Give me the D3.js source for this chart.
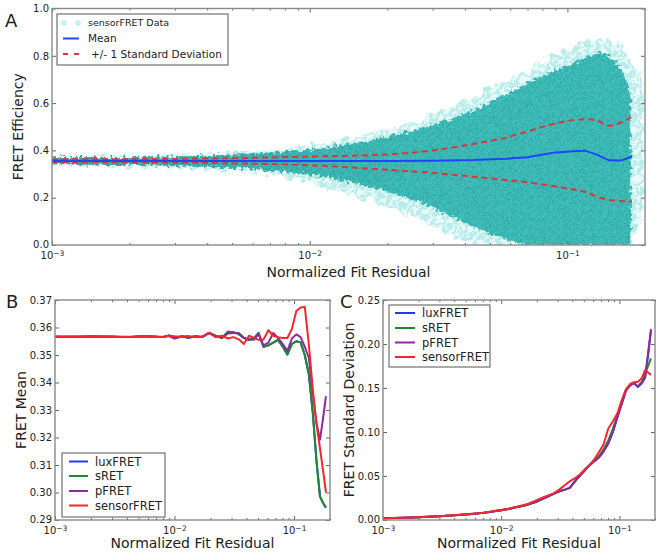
<!DOCTYPE html>
<html><head><meta charset="utf-8">
<script src="https://cdn.jsdelivr.net/npm/d3@7"></script>
<style>
body{margin:0;background:#fff}
text{font-family:"DejaVu Sans",sans-serif;fill:#222}
</style>
</head><body>
<svg id="c" width="660" height="552"></svg>
<script>
// ---------- DATA ----------
const xTickExps = [-3, -2, -1];
const yTicksA = [0.0, 0.2, 0.4, 0.6, 0.8, 1.0];
const yTicksB = [0.29, 0.30, 0.31, 0.32, 0.33, 0.34, 0.35, 0.36, 0.37];
const yTicksC = [0.00, 0.05, 0.10, 0.15, 0.20, 0.25];
const seriesNames = ["luxFRET", "sRET", "pFRET", "sensorFRET"];

// Panel A: scatter cloud envelope
const cloudX    = [0.001, 0.002, 0.003, 0.005, 0.008, 0.0115, 0.016, 0.024, 0.033, 0.043, 0.055, 0.068, 0.085, 0.105, 0.120, 0.135, 0.150, 0.162, 0.170, 0.176, 0.186, 0.197];
const coreHi    = [0.371, 0.372, 0.373, 0.380, 0.394, 0.410, 0.435, 0.476, 0.520, 0.567, 0.625, 0.680, 0.730, 0.765, 0.800, 0.820, 0.790, 0.740, 0.700, 0.620, null, null];
const coreLo    = [0.341, 0.339, 0.335, 0.326, 0.310, 0.290, 0.255, 0.203, 0.140, 0.077, 0.030, 0.0, 0.0, 0.0, 0.0, 0.0, 0.0, 0.0, 0.0, 0.0, null, null];
const haloHi    = [0.374, 0.376, 0.379, 0.388, 0.405, 0.432, 0.462, 0.515, 0.570, 0.625, 0.685, 0.730, 0.790, 0.840, 0.870, 0.885, 0.865, 0.830, 0.800, 0.780, 0.750, 0.690];
const haloLo    = [0.338, 0.335, 0.330, 0.318, 0.295, 0.250, 0.200, 0.130, 0.060, 0.0, 0.0, 0.0, 0.0, 0.0, 0.0, 0.0, 0.0, 0.0, 0.0, 0.0, 0.060, 0.170];

// Panel A: mean and +/- 1 SD
const meanX  = [0.001, 0.003, 0.010, 0.020, 0.030, 0.043, 0.058, 0.070, 0.088, 0.105, 0.117, 0.130, 0.145, 0.161, 0.170, 0.178];
const meanA  = [0.355, 0.355, 0.355, 0.355, 0.356, 0.359, 0.365, 0.371, 0.390, 0.396, 0.399, 0.382, 0.358, 0.357, 0.366, 0.375];
const upperA = [0.362, 0.364, 0.374, 0.383, 0.400, 0.427, 0.455, 0.480, 0.512, 0.528, 0.532, 0.527, 0.504, 0.518, 0.530, 0.542];
const lowerA = [0.350, 0.348, 0.337, 0.318, 0.305, 0.289, 0.275, 0.265, 0.249, 0.235, 0.225, 0.205, 0.190, 0.186, 0.184, 0.183];

// Panels B & C: binned residual
const binX = [0.0010, 0.0015, 0.0020, 0.0030, 0.0040, 0.0050, 0.0060, 0.0070, 0.0080, 0.0090, 0.0100, 0.0115, 0.0130, 0.0150, 0.0170, 0.0195, 0.0220, 0.0250, 0.0280, 0.0310, 0.0345, 0.0380, 0.0420, 0.0460, 0.0505, 0.0555, 0.0610, 0.0670, 0.0735, 0.0805, 0.0880, 0.0960, 0.1045, 0.1135, 0.1230, 0.1330, 0.1435, 0.1545, 0.1650, 0.1750, 0.1850];

const meanLux    = [0.3566, 0.3566, 0.3567, 0.3566, 0.3565, 0.3567, 0.3567, 0.3566, 0.3565, 0.3571, 0.3561, 0.3568, 0.3563, 0.3568, 0.3565, 0.3580, 0.3570, 0.3562, 0.3585, 0.3583, 0.3576, 0.3562, 0.3554, 0.3560, 0.3580, 0.3530, 0.3535, 0.3545, 0.3555, 0.3530, 0.3502, 0.3540, 0.3550, 0.3546, 0.3500, 0.3430, 0.3290, 0.3110, 0.2985, 0.2962, 0.2945];
const meanSRET   = [0.3566, 0.3566, 0.3567, 0.3566, 0.3565, 0.3567, 0.3567, 0.3566, 0.3565, 0.3571, 0.3561, 0.3568, 0.3563, 0.3568, 0.3565, 0.3580, 0.3570, 0.3562, 0.3585, 0.3583, 0.3576, 0.3562, 0.3554, 0.3560, 0.3580, 0.3530, 0.3535, 0.3545, 0.3555, 0.3530, 0.3502, 0.3540, 0.3550, 0.3546, 0.3500, 0.3430, 0.3290, 0.3110, 0.2985, 0.2962, 0.2945];
const meanPFRET  = [0.3566, 0.3566, 0.3567, 0.3566, 0.3565, 0.3567, 0.3567, 0.3566, 0.3565, 0.3569, 0.3560, 0.3567, 0.3564, 0.3567, 0.3566, 0.3580, 0.3568, 0.3565, 0.3578, 0.3580, 0.3580, 0.3562, 0.3558, 0.3555, 0.3576, 0.3535, 0.3545, 0.3580, 0.3562, 0.3540, 0.3515, 0.3560, 0.3575, 0.3565, 0.3530, 0.3490, 0.3360, 0.3250, 0.3192, 0.3270, 0.3350];
const meanSensor = [0.3566, 0.3566, 0.3566, 0.3567, 0.3566, 0.3566, 0.3569, 0.3566, 0.3566, 0.3570, 0.3568, 0.3566, 0.3569, 0.3565, 0.3567, 0.3581, 0.3565, 0.3570, 0.3560, 0.3565, 0.3557, 0.3540, 0.3570, 0.3562, 0.3555, 0.3556, 0.3590, 0.3570, 0.3565, 0.3562, 0.3562, 0.3595, 0.3660, 0.3673, 0.3675, 0.3540, 0.3375, 0.3245, 0.3160, 0.3080, 0.3000];

const sdLux    = [0.0019, 0.0026, 0.0032, 0.0043, 0.0054, 0.0063, 0.0072, 0.0081, 0.0091, 0.0102, 0.0112, 0.0126, 0.0141, 0.0160, 0.0177, 0.0205, 0.0235, 0.0270, 0.0300, 0.0325, 0.0345, 0.0365, 0.0440, 0.0500, 0.0560, 0.0620, 0.0665, 0.0710, 0.0780, 0.0870, 0.1000, 0.1165, 0.1320, 0.1470, 0.1530, 0.1555, 0.1515, 0.1555, 0.1620, 0.1880, 0.2150];
const sdSRET   = [0.0019, 0.0026, 0.0032, 0.0043, 0.0054, 0.0063, 0.0072, 0.0081, 0.0091, 0.0102, 0.0112, 0.0126, 0.0141, 0.0160, 0.0177, 0.0205, 0.0235, 0.0270, 0.0300, 0.0325, 0.0345, 0.0365, 0.0440, 0.0500, 0.0560, 0.0620, 0.0670, 0.0725, 0.0805, 0.0905, 0.1035, 0.1185, 0.1335, 0.1475, 0.1535, 0.1555, 0.1515, 0.1570, 0.1665, 0.1750, 0.1837];
const sdPFRET  = [0.0019, 0.0026, 0.0032, 0.0043, 0.0054, 0.0063, 0.0072, 0.0081, 0.0091, 0.0102, 0.0112, 0.0126, 0.0141, 0.0160, 0.0177, 0.0205, 0.0235, 0.0270, 0.0300, 0.0325, 0.0345, 0.0365, 0.0440, 0.0500, 0.0560, 0.0620, 0.0665, 0.0710, 0.0780, 0.0870, 0.1000, 0.1165, 0.1320, 0.1470, 0.1530, 0.1555, 0.1515, 0.1560, 0.1620, 0.1900, 0.2170];
const sdSensor = [0.0019, 0.0026, 0.0033, 0.0044, 0.0055, 0.0064, 0.0074, 0.0083, 0.0093, 0.0104, 0.0114, 0.0128, 0.0144, 0.0165, 0.0185, 0.0220, 0.0250, 0.0280, 0.0305, 0.0345, 0.0395, 0.0440, 0.0475, 0.0515, 0.0570, 0.0620, 0.0685, 0.0770, 0.0860, 0.1040, 0.1120, 0.1210, 0.1360, 0.1485, 0.1545, 0.1565, 0.1570, 0.1610, 0.1705, 0.1675, 0.1648];

const meanSeries = [meanLux, meanSRET, meanPFRET, meanSensor];
const sdSeries   = [sdLux, sdSRET, sdPFRET, sdSensor];
const seriesColors = ["#2438f2", "#1f8a2a", "#8c2a9e", "#f4262e"];

// ---------- DRAWING ----------
const svg = d3.select("#c");
const defs = svg.append("defs");
const TEXT = "#222", AXIS = "#8a8a8a", LEGBOX = "#555";

function makePanel(cfg) {
  const x = d3.scaleLog().domain([1e-3, 0.2]).range([cfg.l, cfg.r]);
  const y = d3.scaleLinear().domain(cfg.yDomain).range([cfg.b, cfg.t]);
  const g = svg.append("g");
  defs.append("clipPath").attr("id", cfg.id)
    .append("rect").attr("x", cfg.l).attr("y", cfg.t)
    .attr("width", cfg.r - cfg.l).attr("height", cfg.b - cfg.t);
  const plot = g.append("g").attr("clip-path", `url(#${cfg.id})`);
  return { x, y, g, plot, cfg };
}

function decorate(p, yFmt) {
  const { x, y, g, cfg } = p;
  const majors = xTickExps.map(e => Math.pow(10, e));
  const minors = [];
  xTickExps.forEach(e => { for (let m = 2; m <= 9; m++) { const v = m * Math.pow(10, e); if (v <= 0.2) minors.push(v); } });
  const axes = g.append("g");
  const add = (axis, tr) => {
    const s = axes.append("g").attr("transform", tr).call(axis);
    s.select(".domain").remove();
    s.selectAll("line").attr("stroke", "#666").attr("stroke-width", 1);
    return s;
  };
  add(d3.axisBottom(x).tickValues(minors).tickSize(-2).tickFormat(""), `translate(0,${cfg.b})`);
  add(d3.axisTop(x).tickValues(minors).tickSize(-2).tickFormat(""), `translate(0,${cfg.t})`);
  add(d3.axisTop(x).tickValues(majors).tickSize(-4).tickFormat(""), `translate(0,${cfg.t})`);
  add(d3.axisRight(y).tickValues(cfg.yTicks).tickSize(-4).tickFormat(""), `translate(${cfg.r},0)`);
  const bx = add(d3.axisBottom(x).tickValues(majors).tickSize(-4).tickPadding(7), `translate(0,${cfg.b})`);
  bx.selectAll("text").each(function (d) {
    const t = d3.select(this);
    const e = Math.round(Math.log10(d));
    t.text(null).attr("font-family", "DejaVu Sans").attr("font-size", 10).attr("fill", TEXT);
    t.append("tspan").text("10");
    t.append("tspan").attr("dy", "-0.4em").attr("font-size", 7.5).text("\u2212" + Math.abs(e));
  });
  const ly = add(d3.axisLeft(y).tickValues(cfg.yTicks).tickSize(-4).tickPadding(3).tickFormat(d3.format(yFmt)), `translate(${cfg.l},0)`);
  ly.selectAll("text").attr("font-family", "DejaVu Sans").attr("font-size", 10).attr("fill", TEXT);
  // nudge the bottom-most y label up a touch so it clears the x tick label
  ly.selectAll("text").filter(d => d === cfg.yTicks[0]).attr("dy", "0.2em");
  axes.append("rect").attr("x", cfg.l).attr("y", cfg.t)
    .attr("width", cfg.r - cfg.l).attr("height", cfg.b - cfg.t)
    .attr("fill", "none").attr("stroke", AXIS).attr("stroke-width", 1.4);
  // axis labels
  g.append("text").attr("x", (cfg.l + cfg.r) / 2).attr("y", cfg.xlabY)
    .attr("text-anchor", "middle").attr("font-size", 14).text("Normalized Fit Residual");
  g.append("text").attr("transform", `translate(${cfg.ylabX},${(cfg.t + cfg.b) / 2}) rotate(-90)`)
    .attr("text-anchor", "middle").attr("font-size", 14).text(cfg.ylab);
  g.append("text").attr("x", cfg.letterX).attr("y", cfg.letterY).attr("font-size", 18).text(cfg.letter);
}

// ---- Panel A ----
const A = makePanel({ id: "clipA", l: 52, r: 645, t: 8.5, b: 245, yDomain: [0, 1], yTicks: yTicksA,
  xlabY: 277, ylabX: 23, ylab: "FRET Efficiency", letter: "A", letterX: 5, letterY: 27 });

// texture defs for the scatter cloud
const grad = defs.append("linearGradient").attr("id", "coreGrad")
  .attr("gradientUnits", "userSpaceOnUse").attr("x1", 52).attr("x2", 420).attr("y1", 0).attr("y2", 0);
grad.append("stop").attr("offset", 0).attr("stop-color", "#3d8f8d");
grad.append("stop").attr("offset", 0.4).attr("stop-color", "#33a9a6");
grad.append("stop").attr("offset", 1).attr("stop-color", "#31b6b2");
const pat = defs.append("pattern").attr("id", "speck").attr("patternUnits", "userSpaceOnUse")
  .attr("width", 9).attr("height", 8);
[[1.5, 1.5], [6, 3], [3.5, 6], [8, 7]].forEach(c => {
  pat.append("circle").attr("cx", c[0]).attr("cy", c[1]).attr("r", 2.4)
    .attr("fill", "#74dfdb").attr("fill-opacity", 0.2)
    .attr("stroke", "#0b5f5c").attr("stroke-opacity", 0.22).attr("stroke-width", 0.6);
});
const hpat = defs.append("pattern").attr("id", "haloDots").attr("patternUnits", "userSpaceOnUse")
  .attr("width", 11).attr("height", 10);
[[2.5, 2.5], [8, 5], [4, 8.5]].forEach(c => {
  hpat.append("circle").attr("cx", c[0]).attr("cy", c[1]).attr("r", 2.6)
    .attr("fill", "#7fdcd9").attr("fill-opacity", 0.45);
});
const rough = defs.append("filter").attr("id", "rough").attr("x", "-5%").attr("y", "-5%").attr("width", "110%").attr("height", "110%");
rough.append("feTurbulence").attr("type", "fractalNoise").attr("baseFrequency", 0.3).attr("numOctaves", 2).attr("seed", 4).attr("result", "n");
rough.append("feDisplacementMap").attr("in", "SourceGraphic").attr("in2", "n").attr("scale", 9)
  .attr("xChannelSelector", "R").attr("yChannelSelector", "G");
const rough2 = defs.append("filter").attr("id", "rough2").attr("x", "-5%").attr("y", "-5%").attr("width", "110%").attr("height", "110%");
rough2.append("feTurbulence").attr("type", "fractalNoise").attr("baseFrequency", 0.12).attr("numOctaves", 2).attr("seed", 9).attr("result", "n");
rough2.append("feDisplacementMap").attr("in", "SourceGraphic").attr("in2", "n").attr("scale", 16)
  .attr("xChannelSelector", "R").attr("yChannelSelector", "G");

const cloud = cloudX.map((v, i) => ({ x: v, ch: coreHi[i], cl: coreLo[i], hh: haloHi[i], hl: haloLo[i] }));
const haloArea = d3.area().defined(d => d.hh != null)
  .x(d => A.x(d.x)).y0(d => A.y(d.hl)).y1(d => A.y(d.hh)).curve(d3.curveBasis);
const coreArea = d3.area().defined(d => d.ch != null)
  .x(d => A.x(d.x)).y0(d => A.y(d.cl)).y1(d => A.y(d.ch)).curve(d3.curveBasis);
A.plot.append("path").datum(cloud).attr("d", haloArea)
  .attr("fill", "#d6f6f5").attr("fill-opacity", 0.55).attr("filter", "url(#rough2)");
A.plot.append("path").datum(cloud).attr("d", haloArea)
  .attr("fill", "url(#haloDots)").attr("filter", "url(#rough2)");
A.plot.append("path").datum(cloud).attr("d", coreArea).attr("fill", "url(#coreGrad)").attr("filter", "url(#rough)");
A.plot.append("path").datum(cloud).attr("d", coreArea).attr("fill", "url(#speck)").attr("filter", "url(#rough)");

const lineA = d3.line().x(d => A.x(d[0])).y(d => A.y(d[1]));
A.plot.append("path").datum(d3.zip(meanX, upperA)).attr("d", lineA.curve(d3.curveMonotoneX))
  .attr("fill", "none").attr("stroke", "#e0343c").attr("stroke-width", 2).attr("stroke-dasharray", "6,4");
A.plot.append("path").datum(d3.zip(meanX, lowerA)).attr("d", lineA)
  .attr("fill", "none").attr("stroke", "#e0343c").attr("stroke-width", 2).attr("stroke-dasharray", "6,4");
A.plot.append("path").datum(d3.zip(meanX, meanA)).attr("d", lineA.curve(d3.curveLinear))
  .attr("fill", "none").attr("stroke", "#1f45ff").attr("stroke-width", 2);
decorate(A, ".1f");

// legend A
const legA = A.g.append("g");
legA.append("rect").attr("x", 57).attr("y", 14).attr("width", 171).attr("height", 51)
  .attr("fill", "#fff").attr("stroke", LEGBOX).attr("stroke-width", 1);
[64, 78].forEach(cx => legA.append("circle").attr("cx", cx).attr("cy", 23).attr("r", 3).attr("fill", "#c6f2f1"));
legA.append("text").attr("x", 88).attr("y", 23).attr("dy", "0.35em").attr("font-size", 9.5).text("sensorFRET Data");
legA.append("line").attr("x1", 63).attr("x2", 79).attr("y1", 38.5).attr("y2", 38.5).attr("stroke", "#1f45ff").attr("stroke-width", 2);
legA.append("text").attr("x", 88).attr("y", 38.5).attr("dy", "0.35em").attr("font-size", 10.5).text("Mean");
legA.append("line").attr("x1", 63).attr("x2", 80).attr("y1", 54).attr("y2", 54).attr("stroke", "#e0343c").attr("stroke-width", 2).attr("stroke-dasharray", "5,6");
legA.append("text").attr("x", 91).attr("y", 54).attr("dy", "0.35em").attr("font-size", 10.5).text("+/- 1 Standard Deviation");

// ---- Panel B ----
const B = makePanel({ id: "clipB", l: 55, r: 330, t: 300, b: 520, yDomain: [0.29, 0.37], yTicks: yTicksB,
  xlabY: 548, ylabX: 26, ylab: "FRET Mean", letter: "B", letterX: 6, letterY: 308 });
const lineB = d3.line().x(d => B.x(d[0])).y(d => B.y(d[1]));
meanSeries.forEach((s, i) => {
  B.plot.append("path").datum(d3.zip(binX, s)).attr("d", lineB)
    .attr("fill", "none").attr("stroke", seriesColors[i]).attr("stroke-width", 2).attr("stroke-linejoin", "round");
});
decorate(B, ".2f");

// ---- Panel C ----
const C = makePanel({ id: "clipC", l: 383, r: 655, t: 300, b: 520, yDomain: [0, 0.25], yTicks: yTicksC,
  xlabY: 548, ylabX: 354, ylab: "FRET Standard Deviation", letter: "C", letterX: 340, letterY: 308 });
const lineC = d3.line().x(d => C.x(d[0])).y(d => C.y(d[1]));
sdSeries.forEach((s, i) => {
  C.plot.append("path").datum(d3.zip(binX, s)).attr("d", lineC)
    .attr("fill", "none").attr("stroke", seriesColors[i]).attr("stroke-width", 2).attr("stroke-linejoin", "round");
});
decorate(C, ".2f");

// legends B & C
function seriesLegend(g, bx, by, bw, bh, x1, x2, tx, ys) {
  const lg = g.append("g");
  lg.append("rect").attr("x", bx).attr("y", by).attr("width", bw).attr("height", bh)
    .attr("fill", "#fff").attr("stroke", LEGBOX).attr("stroke-width", 1);
  seriesNames.forEach((n, i) => {
    lg.append("line").attr("x1", x1).attr("x2", x2).attr("y1", ys[i]).attr("y2", ys[i])
      .attr("stroke", seriesColors[i]).attr("stroke-width", 2);
    lg.append("text").attr("x", tx).attr("y", ys[i]).attr("dy", "0.35em").attr("font-size", 11.5).text(n);
  });
}
seriesLegend(B.g, 62, 453, 103, 64, 69, 88, 95, [461.5, 476, 491, 505.5]);
seriesLegend(C.g, 389, 305, 101, 62, 395, 415, 422, [313, 328, 342.5, 357]);
</script>
</body></html>
